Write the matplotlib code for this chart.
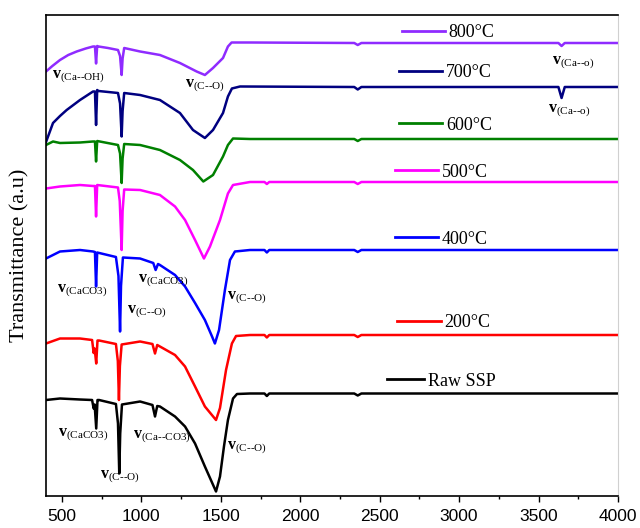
#!/usr/bin/env python3
"""FTIR spectra of SSP calcined at different temperatures (stacked, a.u.)."""

import matplotlib

matplotlib.use("Agg")

import matplotlib.pyplot as plt
from matplotlib.lines import Line2D

# ---- data (wavenumber cm-1, transmittance a.u.) ----
WN_800 = [400, 440, 488, 540, 593, 650, 696, 708, 715, 722, 730, 790, 853, 866, 876, 882, 892,
          992, 1117, 1243, 1348, 1400, 1451, 1514, 1545, 1568, 1684, 2340, 2362, 2385,
          3625, 3645, 3665, 4000]
T_800 = [84.9, 86.0, 87.2, 88.2, 88.9, 89.5, 89.9, 89.9, 86.5, 90.0, 89.9, 89.6, 89.2, 88.0, 84.2,
         87.5, 89.6, 88.9, 88.2, 86.6, 84.9, 84.2, 85.6, 87.6, 89.9, 90.7, 90.7, 90.6, 90.2, 90.6,
         90.6, 90.0, 90.6, 90.6]

WN_700 = [400, 444, 488, 530, 614, 696, 708, 715, 722, 730, 853, 866, 876, 882, 892, 992, 1117,
          1243, 1325, 1400, 1451, 1514, 1545, 1570, 1621, 2340, 2362, 2385, 3625, 3645, 3665, 4000]
T_700 = [70.8, 74.6, 76.0, 77.2, 79.2, 80.9, 80.9, 74.2, 81.2, 81.0, 80.6, 78.5, 71.9, 77.0, 80.6,
         80.2, 79.2, 76.6, 73.2, 71.6, 73.2, 76.6, 79.9, 81.5, 81.9, 81.8, 81.3, 81.8, 81.8, 79.6,
         81.8, 81.8]

WN_600 = [400, 444, 488, 614, 696, 708, 715, 722, 853, 866, 876, 882, 892, 992, 1117, 1243, 1325,
          1390, 1451, 1514, 1545, 1577, 1684, 2340, 2362, 2385, 4000]
T_600 = [70.2, 70.9, 70.6, 70.7, 70.9, 70.9, 66.9, 71.0, 70.2, 68.5, 62.6, 67.5, 70.4, 70.2, 69.2,
         67.2, 65.2, 62.9, 64.2, 67.9, 70.2, 71.5, 71.4, 71.4, 71.0, 71.4, 71.4]

WN_500 = [400, 488, 614, 696, 708, 715, 722, 853, 864, 876, 882, 892, 992, 1117, 1212, 1275, 1338,
          1394, 1432, 1495, 1545, 1577, 1684, 1775, 1790, 1805, 2340, 2362, 2385, 4000]
T_500 = [61.5, 61.9, 62.2, 62.0, 62.0, 55.9, 62.2, 61.7, 59.0, 49.2, 57.0, 61.3, 61.2, 60.2, 57.9,
         55.2, 51.2, 47.5, 49.9, 55.2, 60.5, 62.2, 62.8, 62.8, 62.4, 62.8, 62.8, 62.4, 62.8, 62.8]

WN_400 = [400, 488, 614, 696, 708, 715, 722, 840, 856, 866, 872, 884, 992, 1075, 1090, 1105, 1117,
          1212, 1275, 1338, 1400, 1445, 1463, 1489, 1526, 1558, 1589, 1684, 1775, 1790, 1805,
          2340, 2362, 2385, 4000]
T_400 = [47.5, 48.9, 49.2, 48.9, 48.8, 41.9, 48.7, 47.8, 44.0, 32.9, 42.0, 47.7, 47.5, 46.6, 45.2,
         46.4, 46.2, 44.2, 41.9, 38.6, 35.2, 31.9, 30.5, 33.2, 41.2, 47.2, 48.9, 49.2, 49.2, 48.7,
         49.2, 49.2, 48.8, 49.2, 49.2]

WN_200 = [400, 488, 614, 690, 700, 706, 716, 724, 734, 840, 852, 859, 865, 876, 992, 1070, 1086,
          1100, 1117, 1212, 1275, 1338, 1400, 1470, 1495, 1533, 1570, 1596, 1684, 1775, 1790, 1805,
          2340, 2362, 2385, 4000]
T_200 = [30.5, 31.5, 31.5, 31.2, 28.6, 29.5, 26.5, 31.1, 31.1, 30.4, 27.0, 19.2, 26.0, 30.3, 30.9,
         30.4, 28.5, 30.2, 29.9, 28.2, 25.9, 21.9, 17.9, 15.2, 17.6, 25.2, 30.5, 32.0, 32.2, 32.2,
         31.7, 32.2, 32.2, 31.8, 32.2, 32.2]

WN_RAW = [400, 488, 614, 690, 700, 706, 716, 724, 734, 840, 853, 861, 867, 878, 992, 1070, 1086,
          1100, 1117, 1212, 1275, 1338, 1400, 1470, 1495, 1520, 1545, 1577, 1602, 1684, 1775, 1790,
          1805, 2340, 2362, 2385, 4000]
T_RAW = [19.2, 19.5, 19.3, 19.2, 17.5, 18.3, 13.5, 19.2, 19.2, 18.4, 14.5, 4.5, 12.5, 18.3, 18.9,
         18.2, 15.9, 18.0, 17.9, 15.9, 13.9, 10.5, 5.9, 0.9, 3.9, 9.9, 15.2, 19.5, 20.4, 20.5, 20.5,
         20.0, 20.5, 20.5, 20.1, 20.5, 20.5]

LABELS = ["800°C", "700°C", "600°C", "500°C", "400°C", "200°C", "Raw SSP"]
COLORS = ["#8F2BFF", "#000080", "#008000", "#FF00FF", "#0000FF", "#FF0000", "#000000"]

# band assignments: (text, wavenumber, a.u.) -> top-left corner of label
BANDS = [
    ("Ca--OH", 438, 85.4),
    ("C--O", 1275, 83.6),
    ("Ca--o", 3584, 88.2),
    ("Ca--o", 3559, 78.6),
    ("CaCO3", 467, 42.6),
    ("CaCO3", 977, 44.6),
    ("C--O", 912, 38.5),
    ("C--O", 1541, 41.2),
    ("CaCO3", 477, 13.9),
    ("Ca--CO3", 946, 13.5),
    ("C--O", 740, 5.5),
    ("C--O", 1541, 11.2),
]

# legend anchor (axes fraction) next to each trace
LEGEND_POS = [(0.622, 0.963), (0.617, 0.880), (0.617, 0.771), (0.610, 0.673),
              (0.610, 0.534), (0.614, 0.361), (0.596, 0.239)]

SERIF = "Liberation Serif"


def main() -> None:
    plt.rcParams["mathtext.fontset"] = "custom"
    plt.rcParams["mathtext.rm"] = SERIF
    plt.rcParams["mathtext.it"] = SERIF + ":italic"
    plt.rcParams["mathtext.bf"] = SERIF + ":bold"

    fig = plt.figure(figsize=(6.4, 5.28), dpi=100)
    ax = fig.add_axes([0.0719, 0.0606, 0.8937, 0.911])

    series = [(WN_800, T_800), (WN_700, T_700), (WN_600, T_600), (WN_500, T_500),
              (WN_400, T_400), (WN_200, T_200), (WN_RAW, T_RAW)]
    for (wn, t), color in zip(series, COLORS):
        ax.plot(wn, t, color=color, linewidth=1.8, solid_joinstyle="round")

    for i, (label, color, pos) in enumerate(zip(LABELS, COLORS, LEGEND_POS)):
        handle = Line2D([], [], color=color, linewidth=2.0)
        leg = ax.legend([handle], [label], loc="center left", bbox_to_anchor=pos,
                        frameon=False, borderpad=0, borderaxespad=0,
                        handlelength=2.05 if label == "Raw SSP" else 2.4,
                        handletextpad=0.2, prop={"family": SERIF, "size": 13})
        if i < len(LABELS) - 1:
            ax.add_artist(leg)

    for name, wn, t in BANDS:
        ax.text(wn, t, r"$\mathbf{v}_{\text{(" + name + r")}}$", ha="left", va="top",
                fontsize=11.5, color="black")

    ax.set_xlim(400, 4000)
    ax.set_ylim(0, 96.2)
    ax.set_xticks(range(500, 4001, 500))
    ax.set_xticks(range(500, 4001, 250), minor=True)
    ax.tick_params(axis="x", which="major", direction="out", length=4, width=1, pad=5,
                   labelsize=12.5)
    ax.tick_params(axis="x", which="minor", direction="out", length=2.5, width=1)
    for lab in ax.get_xticklabels():
        lab.set_fontfamily("Liberation Sans")
    ax.tick_params(axis="y", left=False, labelleft=False)
    ax.spines["right"].set_color("#d0d0d0")
    for side in ["left", "top", "bottom"]:
        ax.spines[side].set_linewidth(1.2)
    ax.set_ylabel("Transmittance (a.u)", family=SERIF, fontsize=16, labelpad=12)

    fig.savefig("out.png", dpi=100)
    plt.close(fig)


if __name__ == "__main__":
    main()
